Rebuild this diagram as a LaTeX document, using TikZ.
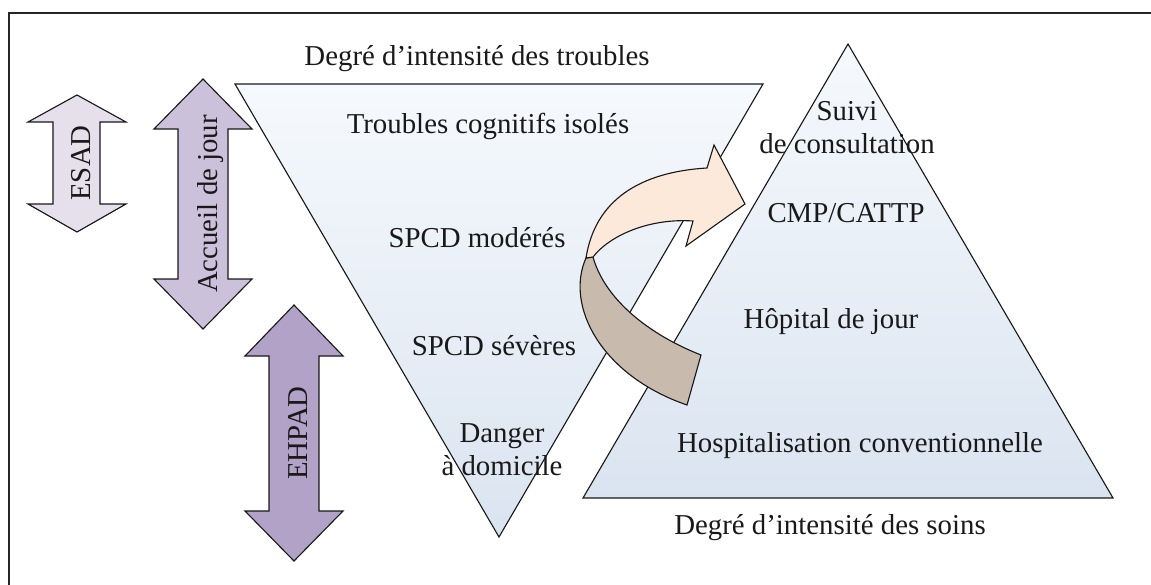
\documentclass[tikz,border=0pt]{standalone}
\usepackage{fontspec}
\setmainfont{Liberation Serif}
\definecolor{esadcol}{RGB}{229,224,236}
\definecolor{accueilcol}{RGB}{204,193,218}
\definecolor{ehpadcol}{RGB}{178,162,199}
\definecolor{tritop}{RGB}{246,249,253}
\definecolor{tribot}{RGB}{218,228,240}
\definecolor{peach}{RGB}{253,233,217}
\definecolor{taupe}{RGB}{201,186,174}

\begin{document}
\begin{tikzpicture}[x=0.025cm, y=-0.025cm,
    lbl/.style={font=\rmfamily\fontsize{20.5}{23.5}\selectfont, text=black!90, inner sep=0pt},
    outline/.style={draw=black!90, line width=0.8pt, line join=miter}]
                \useasboundingbox (0,0) rectangle (1151,585);

                % Frame (top and left side only)
                \draw[line width=1.3pt, black!85] (1151,13) -- (9,13) -- (9,585);

                % Triangles
                \draw[outline, top color=tritop, bottom color=tribot]
                    (235,84) -- (763,84) -- (499,537) -- cycle;
                \draw[outline, top color=tritop, bottom color=tribot]
                    (848,44) -- (1113,498) -- (583,498) -- cycle;

                % Double arrows on the left
                \draw[outline, fill=esadcol]
                    (77,95) -- (126,122) -- (100,122) -- (100,204) -- (126,204) -- (77,232)
                    -- (28,204) -- (53,204) -- (53,122) -- (28,122) -- cycle;
                \node[lbl, rotate=90, anchor=base] (esad) at (90,163) {ESAD};

                \draw[outline, fill=accueilcol]
                    (203,79) -- (252,129) -- (228,129) -- (228,279) -- (252,279) -- (203,329)
                    -- (154,279) -- (178,279) -- (178,129) -- (154,129) -- cycle;
                \node[lbl, rotate=90, anchor=base] (accueil) at (217,204) {Accueil de jour};

                \draw[outline, fill=ehpadcol]
                    (294,305) -- (343,356) -- (319,356) -- (319,511) -- (343,511) -- (294,561)
                    -- (245,511) -- (269,511) -- (269,356) -- (245,356) -- cycle;
                \node[lbl, rotate=90, anchor=base] (ehpad) at (307,433) {EHPAD};

                % Curved arrow (back then front)
                \draw[outline, fill=taupe]
                    (586,258) .. controls (565,305) and (600,375) .. (687,405)
                    -- (701,355) .. controls (650,335) and (605,300) .. (593,257) -- cycle;
                \draw[outline, fill=peach]
                    (586,258) .. controls (595,200) and (640,172) .. (707,168)
                    -- (714,145) -- (745,204) -- (686,246) -- (693,221)
                    .. controls (650,218) and (610,235) .. (593,257) -- cycle;

                % Labels, troubles
                \node[lbl, anchor=base] (degtroubles) at (477,65) {Degré d’intensité des troubles};
                \node[lbl, anchor=base] (isoles) at (488,133) {Troubles cognitifs isolés};
                \node[lbl, anchor=base] (moderes) at (477,247) {SPCD modérés};
                \node[lbl, anchor=base] (severes) at (494,355) {SPCD sévères};
                \node[lbl, align=center] (danger) at (502,450) {Danger\\à domicile};

                % Labels, soins
                \node[lbl, align=center] (suivi) at (847,128) {Suivi\\de consultation};
                \node[lbl, anchor=base] (cmp) at (846,222) {CMP/CATTP};
                \node[lbl, anchor=base] (hdj) at (831,328) {Hôpital de jour};
                \node[lbl, anchor=base] (hospit) at (860,452) {Hospitalisation conventionnelle};
                \node[lbl, anchor=base] (degsoins) at (830,534) {Degré d’intensité des soins};
            \end{tikzpicture}
\end{document}
